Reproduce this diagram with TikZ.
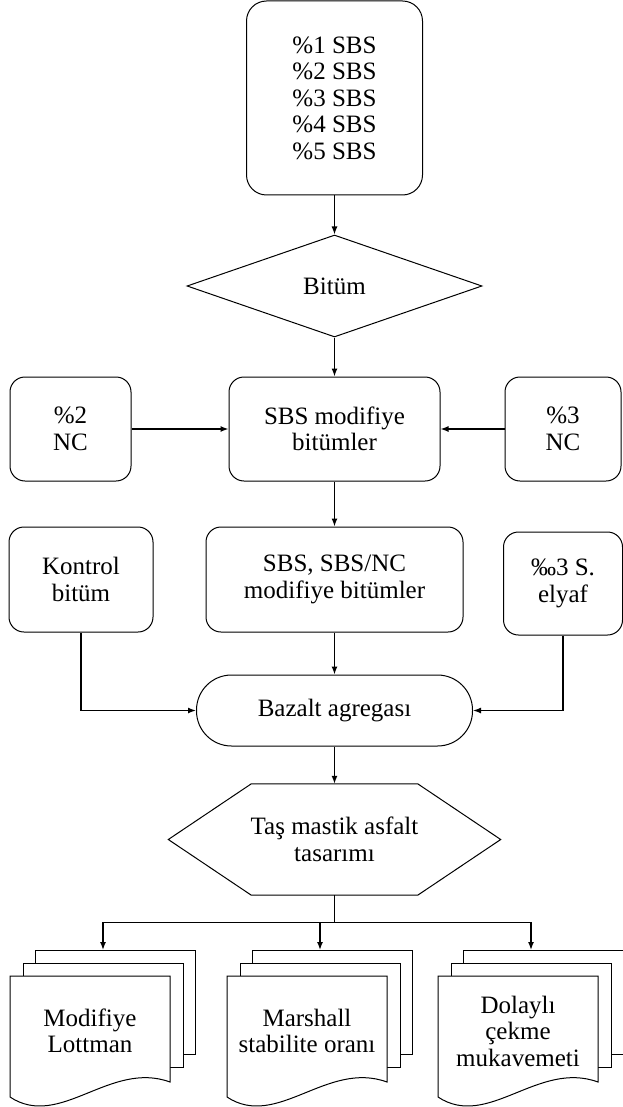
\documentclass[tikz,border=0pt]{standalone}
\usepackage{fontspec}
\setmainfont{Liberation Serif}
\usepackage{tikz}
\usetikzlibrary{arrows.meta,calc,positioning,shapes.geometric}

\begin{document}
\begin{tikzpicture}[
    x=1pt, y=-1pt,
    font=\fontsize{25}{26.5}\selectfont,
    box/.style={draw, line width=1pt, rounded corners=15pt, align=center,
        inner sep=0pt, fill=white},
    decision/.style={draw, diamond, line width=1pt, align=center, inner sep=0pt},
    terminal/.style={draw, line width=1pt, rounded corners=35pt, align=center, inner sep=0pt},
    plain/.style={align=center, inner sep=0pt},
    page/.style={draw, line width=1pt, fill=white},
    arr/.style={-{Latex[length=8pt,width=6pt]}, line width=1.4pt},
    link/.style={line width=1.4pt}
]
    \useasboundingbox (0,0) rectangle (622,1107);

    % upper part
    \node[box, rounded corners=20pt, minimum width=176pt, minimum height=194pt] (sbs) at (334.5,98)
        {\%1 SBS\\\%2 SBS\\\%3 SBS\\\%4 SBS\\\%5 SBS};
    \node[decision, minimum width=295pt, minimum height=102pt] (bitum) at (334.5,286) {Bitüm};
    \node[box, minimum width=211pt, minimum height=104pt] (modified) at (334.5,429) {SBS modifiye\\bitümler};
    \node[box, minimum width=121pt, minimum height=104pt] (nc2) at (70.5,429) {\%2\\NC};
    \node[box, minimum width=116pt, minimum height=104pt] (nc3) at (563,429) {\%3\\NC};

    % second row
    \node[box, minimum width=144pt, minimum height=105pt] (kontrol) at (81,579.5) {Kontrol\\bitüm};
    \node[box, minimum width=257pt, minimum height=105pt] (sbsnc) at (334.5,579.5) {SBS, SBS/NC\\modifiye bitümler};
    \node[box, minimum width=119pt, minimum height=103pt] (elyaf) at (563,583.5) {‰3 S.\\elyaf};

    \node[terminal, minimum width=276pt, minimum height=71pt] (bazalt) at (334.5,710.5) {Bazalt agregası};
    \node[plain, minimum width=332pt, minimum height=111pt] (tasarim) at (334.5,839.5) {Taş mastik asfalt\\tasarımı};
    \draw[line width=1pt] (tasarim.west) -- ($(tasarim.north west)+(83,0)$)
        -- ($(tasarim.north east)+(-83,0)$) -- (tasarim.east)
        -- ($(tasarim.south east)+(-83,0)$) -- ($(tasarim.south west)+(83,0)$) -- cycle;

    % document stacks
    \coordinate (lottmandoc) at (10,976);
    \coordinate (marshalldoc) at (227,976);
    \coordinate (dolaylidoc) at (438,976);

    \draw[page] ($(lottmandoc)+(25,-26)$) rectangle ++(160,104);
    \draw[page] ($(lottmandoc)+(13,-13)$) rectangle ++(160,104);
    \draw[page] (lottmandoc) -- ++(160,0) -- ++(0,106)
        .. controls ($(lottmandoc)+(100,84)$) and ($(lottmandoc)+(50,154)$) .. ($(lottmandoc)+(0,121)$) -- cycle;

    \draw[page] ($(marshalldoc)+(25,-26)$) rectangle ++(160,104);
    \draw[page] ($(marshalldoc)+(13,-13)$) rectangle ++(160,104);
    \draw[page] (marshalldoc) -- ++(160,0) -- ++(0,106)
        .. controls ($(marshalldoc)+(100,84)$) and ($(marshalldoc)+(50,154)$) .. ($(marshalldoc)+(0,121)$) -- cycle;

    \draw[page] ($(dolaylidoc)+(25,-26)$) rectangle ++(160,104);
    \draw[page] ($(dolaylidoc)+(13,-13)$) rectangle ++(160,104);
    \draw[page] (dolaylidoc) -- ++(160,0) -- ++(0,106)
        .. controls ($(dolaylidoc)+(100,84)$) and ($(dolaylidoc)+(50,154)$) .. ($(dolaylidoc)+(0,121)$) -- cycle;

    \node[plain] (lottman) at ($(lottmandoc)+(80,55)$) {Modifiye\\Lottman};
    \node[plain] (marshall) at ($(marshalldoc)+(80,55)$) {Marshall\\stabilite oranı};
    \node[plain] (dolayli) at ($(dolaylidoc)+(80,55)$) {Dolaylı\\çekme\\mukavemeti};

    \coordinate (lottmanin) at ($(lottmandoc)+(93,-26)$);
    \coordinate (marshallin) at ($(marshalldoc)+(93,-26)$);
    \coordinate (dolayliin) at ($(dolaylidoc)+(93,-26)$);
    \coordinate (branch) at ($(tasarim.south)+(0,27)$);

    % connectors
    \draw[arr] (sbs) -- (bitum);
    \draw[arr] (bitum) -- (modified);
    \draw[arr] (nc2) -- (modified);
    \draw[arr] (nc3) -- (modified);
    \draw[arr] (modified) -- (sbsnc);
    \draw[arr] (sbsnc) -- (bazalt);
    \draw[arr] (kontrol.south) |- (bazalt.west);
    \draw[arr] (elyaf.south) |- (bazalt.east);
    \draw[arr] (bazalt) -- (tasarim);
    \draw[link] (tasarim.south) -- (branch);
    \draw[arr] (branch) -| (lottmanin);
    \draw[arr] (branch) -| (marshallin);
    \draw[arr] (branch) -| (dolayliin);
\end{tikzpicture}
\end{document}
